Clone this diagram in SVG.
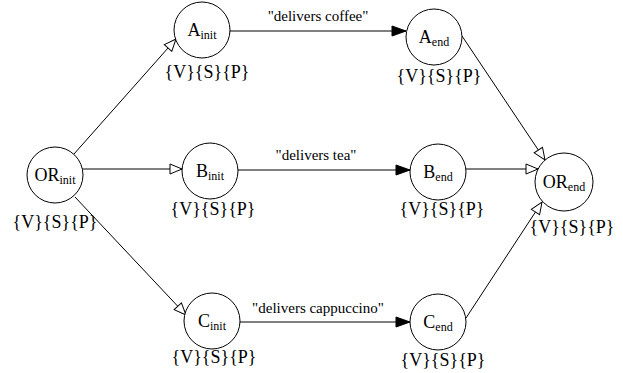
<svg xmlns="http://www.w3.org/2000/svg" width="623" height="373" viewBox="0 0 623 373">
  <style>
    text { font-family: 'Liberation Serif', 'Times New Roman', Times, serif; fill: #000; }
    .node { fill: #fff; stroke: #000; stroke-width: 1; }
    .lbl { font-size: 18px; text-anchor: middle; }
    .sub { font-size: 12px; }
    .set { font-size: 18px; text-anchor: middle; }
    .elbl { font-size: 15px; text-anchor: middle; }
    .edge { fill: none; stroke: #000; stroke-width: 1; }
    .open { marker-end: url(#hollow); }
    .solid { marker-end: url(#filled); }
  </style>
  <defs>
    <marker id="hollow" viewBox="0 0 14 12" refX="13" refY="6" markerWidth="14" markerHeight="12" markerUnits="userSpaceOnUse" orient="auto">
      <path d="M1,1 L13,6 L1,11 Z" fill="#fff" stroke="#000" stroke-width="1"/>
    </marker>
    <marker id="filled" viewBox="0 0 16 12" refX="15" refY="6" markerWidth="16" markerHeight="12" markerUnits="userSpaceOnUse" orient="auto">
      <path d="M1,1 L15,6 L1,11 Z" fill="#000" stroke="#000" stroke-width="1"/>
    </marker>
  </defs>

  <g id="connectors">
    <line class="edge open" x1="74" y1="154" x2="176" y2="39"/>
    <line class="edge open" x1="82" y1="169" x2="182" y2="169"/>
    <line class="edge open" x1="75" y1="197" x2="186" y2="315"/>
    <line class="edge solid" x1="230" y1="31" x2="406" y2="31"/>
    <line class="edge solid" x1="238" y1="170" x2="410" y2="170"/>
    <line class="edge solid" x1="240" y1="322" x2="410" y2="322"/>
    <line class="edge open" x1="462" y1="36" x2="545" y2="160"/>
    <line class="edge open" x1="466" y1="169" x2="538" y2="169"/>
    <line class="edge open" x1="466" y1="318" x2="542" y2="202"/>
    <text class="elbl" x="318" y="21">"delivers coffee"</text>
    <text class="elbl" x="316" y="160">"delivers tea"</text>
    <text class="elbl" x="318" y="313">"delivers cappuccino"</text>
  </g>

  <g id="OR_init">
    <circle class="node" cx="55" cy="175" r="28"/>
    <text class="lbl" x="55" y="181">OR<tspan class="sub" dy="3">init</tspan></text>
    <text class="set" x="55" y="228">{V}{S}{P}</text>
  </g>

  <g id="A_init">
    <circle class="node" cx="202" cy="30" r="28"/>
    <text class="lbl" x="202" y="36">A<tspan class="sub" dy="3">init</tspan></text>
    <text class="set" x="207" y="78">{V}{S}{P}</text>
  </g>

  <g id="A_end">
    <circle class="node" cx="434" cy="37" r="28"/>
    <text class="lbl" x="434" y="43">A<tspan class="sub" dy="3">end</tspan></text>
    <text class="set" x="439" y="82">{V}{S}{P}</text>
  </g>

  <g id="B_init">
    <circle class="node" cx="210" cy="171" r="28"/>
    <text class="lbl" x="210" y="177">B<tspan class="sub" dy="3">init</tspan></text>
    <text class="set" x="213" y="215">{V}{S}{P}</text>
  </g>

  <g id="B_end">
    <circle class="node" cx="438" cy="172" r="28"/>
    <text class="lbl" x="438" y="178">B<tspan class="sub" dy="3">end</tspan></text>
    <text class="set" x="442" y="215">{V}{S}{P}</text>
  </g>

  <g id="C_init">
    <circle class="node" cx="212" cy="321" r="28"/>
    <text class="lbl" x="212" y="327">C<tspan class="sub" dy="3">init</tspan></text>
    <text class="set" x="214" y="363">{V}{S}{P}</text>
  </g>

  <g id="C_end">
    <circle class="node" cx="438" cy="322" r="28"/>
    <text class="lbl" x="438" y="328">C<tspan class="sub" dy="3">end</tspan></text>
    <text class="set" x="443" y="366">{V}{S}{P}</text>
  </g>

  <g id="OR_end">
    <circle class="node" cx="564" cy="182" r="29"/>
    <text class="lbl" x="564" y="188">OR<tspan class="sub" dy="3">end</tspan></text>
    <text class="set" x="572" y="233">{V}{S}{P}</text>
  </g>
</svg>
